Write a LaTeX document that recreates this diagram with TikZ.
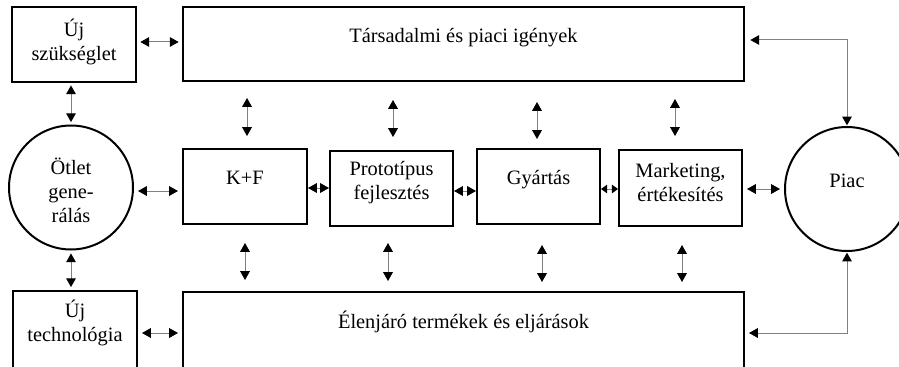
\documentclass[tikz,border=0pt]{standalone}
\usepackage{fontspec}
\setmainfont{Liberation Serif}
\usetikzlibrary{arrows.meta,fit,calc}

\begin{document}
\begin{tikzpicture}[
  x=0.75pt, y=-0.75pt,
  font=\fontsize{15.3}{18}\selectfont,
  >={Triangle[length=6.6pt,width=7.2pt,color=black]},
  box/.style={draw=black, line width=1.5pt, inner sep=0pt},
  ring/.style={draw=black, line width=1.5pt, circle, inner sep=0pt, minimum size=93pt},
  txt/.style={inner sep=0pt, align=center},
  conn/.style={draw=black!50, line width=0.75pt, <->},
  smalltips/.style={{Triangle[length=4.6pt,width=6.4pt,color=black]}-{Triangle[length=4.6pt,width=6.4pt,color=black]}},
  gap/.style={shorten <=#1, shorten >=#1},
]
\useasboundingbox (0,0) rectangle (899,367);

% boxes
\node[box, fit={(12,7) (136,82)}]    (szuk)  {};
\node[box, fit={(183,7) (744,81)}]   (top)   {};
\node[box, fit={(183,149) (307,224)}] (kf)   {};
\node[box, fit={(330,151) (453,226)}] (proto) {};
\node[box, fit={(477,149) (600,224)}] (gyart) {};
\node[box, fit={(619,150) (742,226)}] (mark)  {};
\node[box, fit={(13,291) (137,368)}]  (ujtech) {};
\node[box, fit={(183,292) (744,368)}] (bottom) {};

% circles
\node[ring] (otlet) at (71,187.5) {};
\node[ring] (piac)  at (847,189) {};

% labels
\node[txt] (szuk-t)   at (74,42)     {Új\\szükséglet};
\node[txt, anchor=base] (top-t) at (463.5,43) {Társadalmi és piaci igények};
\node[txt] (otlet-t)  at (71,190)    {Ötlet\\gene-\\rálás};
\node[txt, anchor=base] (kf-t) at (245,185) {K+F};
\node[txt] (proto-t)  at (391.5,183) {Prototípus\\fejlesztés};
\node[txt, anchor=base] (gyart-t) at (538.5,185) {Gyártás};
\node[txt] (mark-t)   at (680.5,182.5) {Marketing,\\értékesítés};
\node[txt, anchor=base] (piac-t) at (847,188) {Piac};
\node[txt] (ujtech-t) at (75,323)    {Új\\technológia};
\node[txt, anchor=base] (bottom-t) at (463.5,328) {Élenjáró termékek és eljárások};

% horizontal links
\draw[conn, gap=2.5pt] (szuk.east |- 0,42) -- (top.west |- 0,42);
\draw[conn, gap=3pt] (otlet.east |- 0,191) -- (kf.west |- 0,191);
\draw[conn] (kf.east |- 0,188) -- (proto.west |- 0,188);
\draw[conn] (proto.east |- 0,191) -- (gyart.west |- 0,191);
\draw[conn, smalltips] (gyart.east |- 0,189) -- (mark.west |- 0,189);
\draw[conn, gap=3pt] (mark.east |- 0,189) -- (piac.west);
\draw[conn, gap=3pt] (ujtech.east |- 0,333) -- (bottom.west |- 0,333);

% vertical links on the left
\draw[conn, gap=1.8pt] (otlet.north |- szuk.south) -- (otlet.north);
\draw[conn, gap=2.2pt] (otlet.south) -- (otlet.south |- ujtech.north);

% links to the market
\draw[conn, shorten <=4pt, shorten >=0.5pt] (top.east |- 0,40) -| (piac.north);
\draw[conn, shorten <=3pt, shorten >=0.5pt] (bottom.east |- 0,333) -| (piac.south);

% floating links above and below the process chain
\coordinate (a1) at (247,98);  \coordinate (a2) at (247,136);
\coordinate (b1) at (393,100); \coordinate (b2) at (393,137);
\coordinate (c1) at (537,102); \coordinate (c2) at (537,139);
\coordinate (d1) at (675,99);  \coordinate (d2) at (675,136);
\coordinate (e1) at (245,243); \coordinate (e2) at (245,280);
\coordinate (f1) at (388,243); \coordinate (f2) at (388,281);
\coordinate (g1) at (542,245); \coordinate (g2) at (542,282);
\coordinate (h1) at (682,245); \coordinate (h2) at (682,282);
\foreach \p in {a,b,c,d,e,f,g,h}
  \draw[conn] (\p1) -- (\p2);
\end{tikzpicture}
\end{document}
